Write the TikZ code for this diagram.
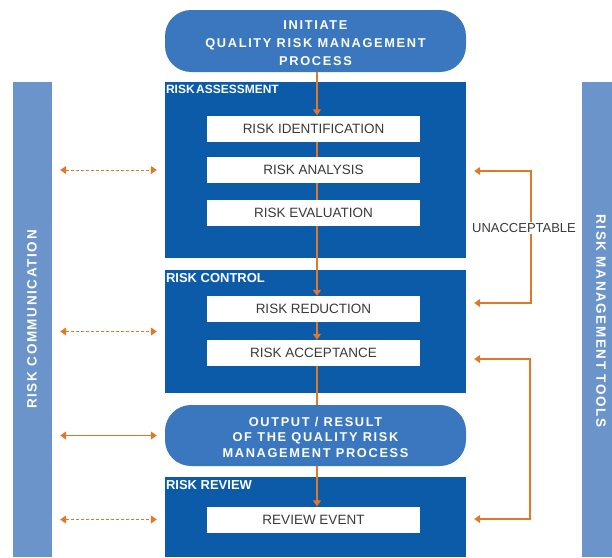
\documentclass[tikz,border=0pt]{standalone}
\usepackage{fontspec}
\setmainfont{Liberation Sans}
\newfontfamily\spaced{Liberation Sans}[LetterSpace=12]
\newfontfamily\pillspaced{Liberation Sans}[LetterSpace=13]
\usetikzlibrary{arrows.meta}
\definecolor{pillblue}{HTML}{3B77BE}
\definecolor{darkblue}{HTML}{0C5BA9}
\definecolor{barblue}{HTML}{6B94CA}
\definecolor{flowor}{HTML}{E0782A}
\definecolor{textgray}{HTML}{3A3A3A}
\begin{document}
\begin{tikzpicture}[x=1pt,y=-1pt,
  >={Triangle[width=8pt,length=6pt]},
  pill/.style={fill=pillblue, rounded corners=26pt, minimum width=301pt, inner sep=0pt},
  pilltext/.style={text=white, align=center, inner sep=0pt},
  section/.style={fill=darkblue, minimum width=301pt, inner sep=0pt},
  seclabel/.style={text=white, font=\bfseries\fontsize{13}{14}\selectfont, inner sep=0pt, anchor=north west},
  stepbox/.style={fill=white, minimum width=213pt, minimum height=26pt, inner sep=0pt, text=textgray, font=\fontsize{13.5}{15}\selectfont},
  bar/.style={fill=barblue, inner sep=0pt},
  bartext/.style={text=white, inner sep=0pt, font=\spaced\bfseries\fontsize{13.5}{15}\selectfont},
  flow/.style={draw=flowor, line width=1.2pt},
  dasharr/.style={draw=flowor, line width=1pt, dash pattern=on 3pt off 2pt, <->, shorten <=8pt, shorten >=8pt},
  solidarr/.style={draw=flowor, line width=1.2pt, <->, shorten <=8pt, shorten >=8pt},
  feedback/.style={draw=flowor, line width=1.2pt, <->, shorten <=8pt, shorten >=8pt}
]
\useasboundingbox (0,0) rectangle (612,557);
% side bars
\node[bar, minimum width=39pt, minimum height=475pt] (lbar) at (32.5,319.5) {};
\node[bartext, rotate=90] (lbt) at ([xshift=-0.5pt]lbar.center) {RISK COMMUNICATION};
\node[bar, minimum width=30pt, minimum height=475pt] (rbar) at (597,319.5) {};
\node[bartext, rotate=-90] (rbt) at (601,321) {RISK MANAGEMENT TOOLS};
% main column
\node[pill, minimum height=62pt] (init) at (315.5,41) {};
\node[pilltext, font=\pillspaced\bfseries\fontsize{12.8}{18}\selectfont] (initt) at ([yshift=-2.5pt]init.center) {INITIATE\\QUALITY RISK MANAGEMENT\\PROCESS};
\node[section, minimum height=176pt] (ra) at (315.5,170) {};
\node[seclabel, font=\bfseries\fontsize{12}{14}\selectfont] (ralab) at ([xshift=1pt,yshift=-3pt]ra.north west) {RISK\hspace{0.12em}ASSESSMENT};
\node[stepbox] (rid) at (313.5,128.5) {RISK IDENTIFICATION};
\node[stepbox] (ran) at (313.5,170) {RISK ANALYSIS};
\node[stepbox] (rev) at (313.5,213) {RISK EVALUATION};
\node[section, minimum height=123pt] (rc) at (315.5,331.5) {};
\node[seclabel] (rclab) at ([xshift=1pt,yshift=-3pt]rc.north west) {RISK CONTROL};
\node[stepbox] (rred) at (313.5,309) {RISK REDUCTION};
\node[stepbox] (racc) at (313.5,353) {RISK ACCEPTANCE};
\node[pill, minimum height=61pt] (out) at (315.5,435.5) {};
\node[pilltext, font=\pillspaced\bfseries\fontsize{12.8}{15.5}\selectfont] (outt) at ([yshift=-1.5pt]out.center) {OUTPUT / RESULT\\OF THE QUALITY RISK\\MANAGEMENT PROCESS};
\node[section, minimum height=80pt] (rr) at (315.5,517) {};
\node[seclabel] (rrlab) at ([xshift=1pt,yshift=-3pt]rr.north west) {RISK REVIEW};
\node[stepbox] (rre) at (313.5,519.5) {REVIEW EVENT};
% centre flow line
\coordinate (cl) at (317,0);
\draw[flow, ->] (cl |- init.south) -- (cl |- rid.north);
\draw[flow] (cl |- rid.south) -- (cl |- ran.north);
\draw[flow] (cl |- ran.south) -- (cl |- rev.north);
\draw[flow, ->] (cl |- rev.south) -- (cl |- rred.north);
\draw[flow, ->] (cl |- rred.south) -- (cl |- racc.north);
\draw[flow] (cl |- racc.south) -- (cl |- out.north);
\draw[flow, ->] (cl |- out.south) -- (cl |- rre.north);
% communication arrows
\draw[dasharr] (lbar.east |- ra) -- (ra.west);
\draw[dasharr] (lbar.east |- rc) -- (rc.west);
\draw[solidarr] (lbar.east |- out) -- (out.west);
\draw[dasharr] (lbar.east |- rre) -- (rr.west |- rre);
% feedback loops
\coordinate (u1) at (531,171);
\coordinate (u2) at (531,303);
\draw[feedback] (ra.east |- u1) -- (u1) -- (u2) -- (rc.east |- u2);
\node[fill=white, inner sep=1pt, text=textgray, font=\fontsize{13}{15}\selectfont] (unacc) at (524,228) {UNACCEPTABLE};
\coordinate (v1) at (530,359);
\coordinate (v2) at (530,519);
\draw[feedback] (rc.east |- v1) -- (v1) -- (v2) -- (rr.east |- v2);
\end{tikzpicture}
\end{document}
